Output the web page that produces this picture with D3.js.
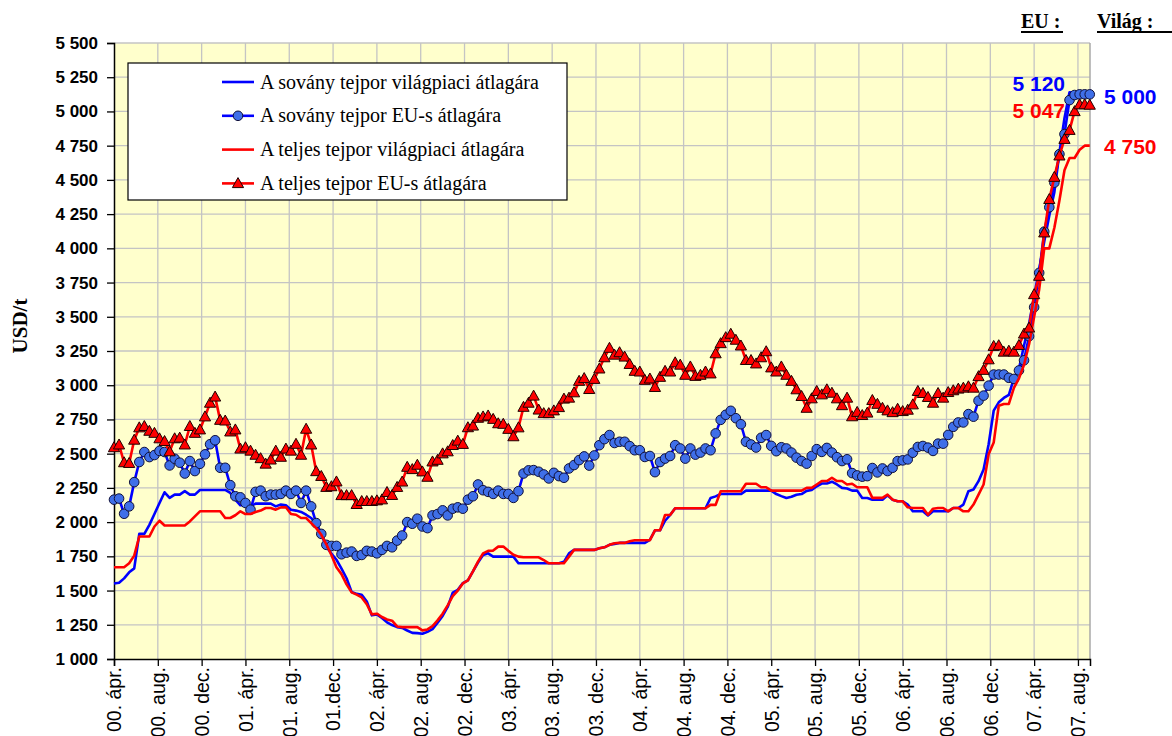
<!DOCTYPE html>
<html>
<head>
<meta charset="utf-8">
<script src="https://cdn.jsdelivr.net/npm/d3@7"></script>
<style>
  body { margin: 0; background: #fff; }
  svg { display: block; font-family: "Liberation Sans", Arial, sans-serif; }
</style>
</head>
<body>
<svg id="chart" width="1172" height="736"></svg>
<script>
// y axis ticks (USD/t)
var yTicks = [1000, 1250, 1500, 1750, 2000, 2250, 2500, 2750, 3000, 3250, 3500, 3750, 4000, 4250, 4500, 4750, 5000, 5250, 5500];

// x axis: months counted from 2000 April, one label every 4 months
var tickMonths = [0, 4, 8, 12, 16, 20, 24, 28, 32, 36, 40, 44, 48, 52, 56, 60, 64, 68, 72, 76, 80, 84, 88];
var tickLabels = ["00. ápr.", "00. aug.", "00. dec.", "01. ápr.", "01. aug.", "01.dec.", "02. ápr.", "02. aug.", "02. dec.",
  "03. ápr.", "03. aug.", "03. dec.", "04. ápr.", "04. aug.", "04. dec.", "05. ápr.", "05. aug.", "05. dec.",
  "06. ápr.", "06. aug.", "06. dec.", "07. ápr.", "07. aug."];

// observations every two weeks from 2000 April
var stepMonths = 12 / 26;

var worldSkim = [1552,1557,1589,1633,1662,1914,1914,1980,2059,2140,
  2218,2177,2201,2201,2226,2201,2201,2235,2235,2235,
  2235,2235,2235,2213,2164,2123,2123,2115,2135,2135,
  2135,2135,2115,2128,2123,2091,2084,2074,2054,2030,
  1985,1912,1821,1770,1725,1660,1590,1490,1476,1470,
  1420,1319,1326,1299,1268,1248,1233,1227,1208,1191,
  1189,1184,1198,1218,1265,1315,1380,1485,1505,1555,
  1575,1640,1705,1760,1772,1748,1748,1748,1748,1748,
  1699,1699,1699,1699,1699,1699,1699,1699,1699,1710,
  1772,1797,1797,1797,1797,1797,1809,1816,1834,1841,
  1848,1848,1848,1848,1848,1848,1870,1940,1940,2010,
  2052,2101,2101,2101,2101,2101,2101,2101,2176,2188,
  2205,2205,2205,2205,2205,2230,2230,2230,2230,2230,
  2230,2205,2190,2176,2185,2200,2205,2228,2235,2262,
  2282,2282,2295,2275,2250,2245,2230,2230,2176,2176,
  2164,2164,2164,2196,2164,2152,2152,2128,2079,2079,
  2079,2049,2079,2079,2079,2079,2103,2103,2128,2226,
  2238,2299,2385,2569,2814,2875,2907,2930,3050,3120,
  3290,3450,3650,3850,4050,4240,4410,4700,4950,5140,
  5140,5140,5140,5140];

var euSkim = [2164,2172,2061,2115,2292,2439,2512,2475,2490,2520,
  2512,2414,2463,2434,2355,2446,2373,2426,2495,2569,
  2598,2397,2397,2270,2189,2181,2140,2091,2221,2230,
  2189,2201,2201,2206,2230,2206,2230,2140,2230,2115,
  1993,1914,1834,1826,1826,1765,1777,1785,1753,1760,
  1790,1785,1772,1797,1826,1816,1865,1902,2000,1988,
  2025,1968,1956,2049,2059,2086,2049,2098,2108,2098,
  2164,2189,2275,2233,2221,2206,2230,2206,2206,2177,
  2226,2355,2378,2380,2368,2348,2319,2360,2336,2324,
  2392,2417,2453,2480,2413,2487,2562,2606,2636,2578,
  2587,2587,2555,2525,2525,2476,2483,2365,2439,2464,
  2483,2562,2538,2464,2538,2493,2508,2538,2525,2648,
  2747,2784,2813,2759,2715,2587,2567,2545,2616,2636,
  2557,2518,2547,2538,2508,2471,2446,2427,2483,2533,
  2513,2542,2508,2474,2446,2459,2358,2341,2332,2336,
  2395,2363,2392,2373,2397,2446,2451,2458,2507,2549,
  2556,2544,2520,2573,2573,2637,2696,2728,2728,2789,
  2770,2887,2924,2997,3078,3078,3078,3054,3046,3108,
  3182,3358,3570,3821,4122,4300,4480,4688,4834,5083,
  5120,5125,5125,5125];

var worldWhole = [1670,1670,1670,1699,1755,1895,1895,1895,1968,2010,
  1975,1975,1975,1975,1975,2005,2042,2079,2079,2079,
  2079,2079,2030,2030,2050,2079,2059,2059,2074,2084,
  2103,2103,2091,2108,2108,2059,2054,2030,2030,1993,
  1956,1907,1838,1760,1670,1620,1545,1487,1470,1450,
  1400,1326,1331,1307,1289,1280,1238,1233,1233,1233,
  1233,1209,1216,1240,1282,1331,1392,1460,1500,1552,
  1575,1640,1711,1772,1790,1792,1821,1821,1790,1762,
  1748,1743,1743,1743,1743,1723,1699,1699,1699,1699,
  1748,1797,1797,1797,1797,1797,1809,1816,1834,1846,
  1848,1848,1860,1868,1868,1868,1868,1940,1940,2052,
  2052,2101,2101,2101,2101,2101,2101,2101,2126,2126,
  2225,2225,2225,2225,2225,2280,2280,2280,2255,2255,
  2230,2230,2230,2230,2230,2230,2230,2250,2250,2275,
  2300,2300,2324,2300,2300,2275,2280,2255,2255,2255,
  2177,2177,2177,2201,2164,2152,2152,2108,2103,2103,
  2103,2054,2098,2103,2103,2079,2103,2103,2079,2079,
  2128,2201,2275,2495,2581,2850,2863,2863,2980,3050,
  3150,3300,3500,3700,4000,4000,4150,4350,4570,4660,
  4660,4720,4750,4750];

var euWhole = [2545,2565,2435,2430,2600,2690,2700,2665,2650,2610,
  2590,2515,2610,2615,2565,2700,2650,2675,2770,2870,
  2915,2745,2740,2660,2675,2535,2545,2520,2490,2465,
  2425,2455,2520,2475,2535,2520,2570,2490,2680,2565,
  2370,2335,2255,2260,2295,2195,2195,2195,2130,2152,
  2152,2152,2157,2164,2218,2196,2255,2294,2402,2385,
  2417,2368,2329,2441,2453,2500,2515,2561,2593,2569,
  2691,2703,2760,2770,2777,2752,2720,2716,2679,2625,
  2690,2840,2870,2922,2820,2794,2794,2814,2838,2900,
  2907,2946,3030,3050,2970,3044,3120,3202,3271,3221,
  3239,3207,3153,3103,3098,3037,3047,2985,3059,3103,
  3098,3165,3148,3074,3135,3066,3074,3098,3084,3231,
  3305,3349,3374,3330,3288,3182,3182,3157,3202,3246,
  3128,3098,3135,3074,3030,2968,2919,2833,2902,2956,
  2931,2968,2943,2902,2852,2907,2771,2803,2780,2798,
  2890,2862,2833,2814,2801,2826,2809,2819,2858,2956,
  2941,2912,2870,2941,2907,2948,2961,2973,2980,2990,
  2980,3064,3110,3187,3285,3290,3243,3250,3243,3292,
  3375,3419,3663,3797,4114,4358,4520,4676,4797,4863,
  5000,5050,5050,5047];

var seriesNames = ["A sovány tejpor világpiaci átlagára", "A sovány tejpor EU-s átlagára",
  "A teljes tejpor világpiaci átlagára", "A teljes tejpor EU-s átlagára"];

// end-of-period values written at the top right
var euLabels = ["5 120", "5 047"];
var worldLabels = ["5 000", "4 750"];

var BLUE = "#0000ff", RED = "#ff0000", DOT = "#3f6fe8";

var svg = d3.select("#chart");

var plot = {left: 114, right: 1090, top: 43, bottom: 659};

var x = d3.scaleLinear().domain([0, 89.1]).range([plot.left, plot.right]);
var y = d3.scaleLinear().domain([1000, 5500]).range([plot.bottom, plot.top]);

function px(d, i) { return x(i * stepMonths); }

// plot area
svg.append("rect")
    .attr("x", plot.left).attr("y", plot.top)
    .attr("width", plot.right - plot.left).attr("height", plot.bottom - plot.top)
    .attr("fill", "#ffffcc");

// grid
svg.append("g").selectAll("line")
    .data(yTicks.slice(1))
    .enter().append("line")
    .attr("x1", plot.left).attr("x2", plot.right)
    .attr("y1", function(d){ return y(d); }).attr("y2", function(d){ return y(d); })
    .attr("stroke", "#c4c4c4").attr("stroke-width", 1.3);

svg.append("g").selectAll("line")
    .data(tickMonths.slice(1))
    .enter().append("line")
    .attr("x1", function(d){ return x(d); }).attr("x2", function(d){ return x(d); })
    .attr("y1", plot.top).attr("y2", plot.bottom)
    .attr("stroke", "#c4c4c4").attr("stroke-width", 1.3);

svg.append("line")
    .attr("x1", plot.right).attr("x2", plot.right)
    .attr("y1", plot.top).attr("y2", plot.bottom)
    .attr("stroke", "#a8a8a8").attr("stroke-width", 1.5);

// axes
var yAxis = d3.axisLeft(y).tickValues(yTicks).tickSize(7).tickPadding(9)
    .tickFormat(function(d){ return d3.format(",")(d).replace(",", " "); });

var gy = svg.append("g")
    .attr("transform", "translate(" + plot.left + ",0)")
    .call(yAxis);
gy.select(".domain").attr("stroke", "#000").attr("stroke-width", 1.5);
gy.selectAll(".tick line").attr("stroke", "#000").attr("stroke-width", 1.3);
gy.selectAll(".tick text")
    .attr("font-family", "'Liberation Sans', Arial, sans-serif")
    .attr("font-size", 17).attr("font-weight", "bold").attr("fill", "#000");

var xAxis = d3.axisBottom(x).tickValues(tickMonths).tickSize(7)
    .tickFormat(function(d, i){ return tickLabels[i]; });

var gx = svg.append("g")
    .attr("transform", "translate(0," + plot.bottom + ")")
    .call(xAxis);
gx.select(".domain").attr("stroke", "#000").attr("stroke-width", 1.5);
gx.selectAll(".tick line").attr("stroke", "#000").attr("stroke-width", 1.3);
gx.selectAll(".tick text")
    .attr("font-family", "'Liberation Sans', Arial, sans-serif")
    .attr("font-size", 19.5).attr("fill", "#000")
    .attr("text-anchor", "end")
    .attr("transform", "translate(0,8) rotate(-90)")
    .attr("x", 0).attr("y", 0).attr("dy", "0.35em");

// axis title
svg.append("text")
    .attr("transform", "translate(27,326) rotate(-90)")
    .attr("text-anchor", "middle")
    .attr("font-family", "'Liberation Serif', 'Times New Roman', serif")
    .attr("font-weight", "bold").attr("font-size", 21)
    .text("USD/t");

// series
var line = d3.line().x(px).y(function(d){ return y(d); });

var triangle = "M0,-5.8L5.6,4.2L-5.6,4.2Z";

svg.append("path").datum(worldSkim)
    .attr("d", line).attr("fill", "none")
    .attr("stroke", BLUE).attr("stroke-width", 2.6).attr("stroke-linejoin", "round");

svg.append("path").datum(euSkim)
    .attr("d", line).attr("fill", "none")
    .attr("stroke", BLUE).attr("stroke-width", 2.6).attr("stroke-linejoin", "round");

svg.append("g").selectAll("circle")
    .data(euSkim)
    .enter().append("circle")
    .attr("cx", px).attr("cy", function(d){ return y(d); })
    .attr("r", 4.8)
    .attr("fill", DOT).attr("stroke", "#10103a").attr("stroke-width", 1);

svg.append("path").datum(worldWhole)
    .attr("d", line).attr("fill", "none")
    .attr("stroke", RED).attr("stroke-width", 2.6).attr("stroke-linejoin", "round");

svg.append("path").datum(euWhole)
    .attr("d", line).attr("fill", "none")
    .attr("stroke", RED).attr("stroke-width", 2.6).attr("stroke-linejoin", "round");

svg.append("g").selectAll("path")
    .data(euWhole)
    .enter().append("path")
    .attr("d", triangle)
    .attr("transform", function(d, i){ return "translate(" + px(d, i) + "," + y(d) + ")"; })
    .attr("fill", RED).attr("stroke", "#200000").attr("stroke-width", 1);

// legend
var legend = svg.append("g").attr("transform", "translate(128,63)");
legend.append("rect")
    .attr("width", 439).attr("height", 137)
    .attr("fill", "#fff").attr("stroke", "#000").attr("stroke-width", 1.2);

var legendRows = legend.selectAll("g.row")
    .data(seriesNames)
    .enter().append("g")
    .attr("class", "row")
    .attr("transform", function(d, i){ return "translate(0," + (19 + i * 33.8) + ")"; });

legendRows.append("line")
    .attr("x1", 94).attr("x2", 126)
    .attr("stroke", function(d, i){ return i < 2 ? BLUE : RED; })
    .attr("stroke-width", 2.6);

legendRows.filter(function(d, i){ return i == 1; }).append("circle")
    .attr("cx", 110).attr("r", 4.8)
    .attr("fill", DOT).attr("stroke", "#10103a").attr("stroke-width", 1);

legendRows.filter(function(d, i){ return i == 3; }).append("path")
    .attr("d", triangle).attr("transform", "translate(110,0)")
    .attr("fill", RED).attr("stroke", "#200000").attr("stroke-width", 1);

legendRows.append("text")
    .attr("x", 132).attr("dy", "0.33em")
    .attr("font-family", "'Liberation Serif', 'Times New Roman', serif")
    .attr("font-size", 20).attr("fill", "#000")
    .text(function(d){ return d; });

// headings at the top right
var heads = [{t: "EU :", x: 1021, w: 42}, {t: "Világ :", x: 1097, w: 80}];
heads.forEach(function(h){
  svg.append("text")
      .attr("x", h.x).attr("y", 28)
      .attr("font-family", "'Liberation Serif', 'Times New Roman', serif")
      .attr("font-weight", "bold").attr("font-size", 20)
      .text(h.t);
  svg.append("line")
      .attr("x1", h.x).attr("x2", h.x + h.w)
      .attr("y1", 32).attr("y2", 32)
      .attr("stroke", "#000").attr("stroke-width", 2);
});

var valueStyle = function(sel){
  sel.attr("font-family", "'Liberation Sans', Arial, sans-serif")
     .attr("font-weight", "bold").attr("font-size", 21);
};

svg.append("text").call(valueStyle)
    .attr("x", 1065).attr("y", 91).attr("text-anchor", "end")
    .attr("fill", BLUE).text(euLabels[0]);
svg.append("text").call(valueStyle)
    .attr("x", 1065).attr("y", 118).attr("text-anchor", "end")
    .attr("fill", RED).text(euLabels[1]);
svg.append("text").call(valueStyle)
    .attr("x", 1104).attr("y", 104)
    .attr("fill", BLUE).text(worldLabels[0]);
svg.append("text").call(valueStyle)
    .attr("x", 1104).attr("y", 154)
    .attr("fill", RED).text(worldLabels[1]);
</script>
</body>
</html>
